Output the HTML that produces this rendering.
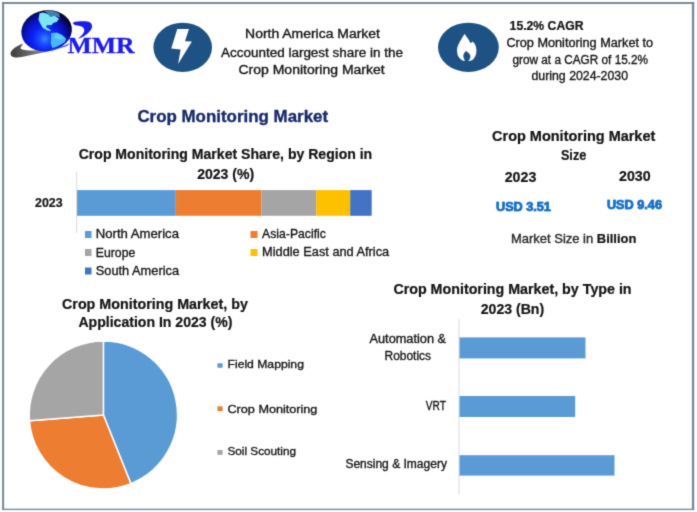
<!DOCTYPE html>
<html><head><meta charset="utf-8">
<style>
html,body{margin:0;padding:0;background:#fff;}
body{width:697px;height:512px;overflow:hidden;}
svg{display:block;will-change:transform;}
text{font-family:"Liberation Sans",sans-serif;fill:#161616;stroke:#161616;stroke-width:0.34px;}
.b{font-weight:bold;}
.b text,text.b{fill:#141414;stroke:#141414;stroke-width:0.22px;}
.ser{font-family:"Liberation Serif",serif;}
</style></head><body>
<svg width="697" height="512" viewBox="0 0 697 512">
<defs><filter id="soft" x="0" y="0" width="697" height="512" filterUnits="userSpaceOnUse" color-interpolation-filters="sRGB"><feConvolveMatrix order="3" kernelMatrix="0.0196 0.1008 0.0196 0.1008 0.5184 0.1008 0.0196 0.1008 0.0196" edgeMode="duplicate" preserveAlpha="true"/></filter>
<radialGradient id="gl" gradientUnits="userSpaceOnUse" cx="43.5" cy="38.5" r="31">
<stop offset="0" stop-color="#3a86ff"/><stop offset="0.18" stop-color="#1a4cfc"/><stop offset="0.4" stop-color="#0c22f0"/><stop offset="0.62" stop-color="#0914c8"/><stop offset="0.82" stop-color="#050a78"/><stop offset="0.94" stop-color="#020326"/><stop offset="1" stop-color="#010114"/>
</radialGradient>
<filter id="glow" x="-20%" y="-50%" width="140%" height="200%"><feGaussianBlur stdDeviation="0.7"/></filter>
<filter id="sf" x="-10%" y="-10%" width="120%" height="120%"><feGaussianBlur stdDeviation="0.35"/></filter>
<filter id="bl" x="-50%" y="-50%" width="200%" height="200%"><feGaussianBlur stdDeviation="2.2"/></filter>
<linearGradient id="sw" x1="0" y1="0" x2="1" y2="0">
<stop offset="0" stop-color="#3c3c3c"/><stop offset="0.45" stop-color="#7a7a7a"/><stop offset="0.75" stop-color="#6a70a8"/><stop offset="1" stop-color="#1a2ad8"/>
</linearGradient>
</defs>
<g filter="url(#soft)"><rect x="-5" y="-5" width="707" height="522" fill="#fff"/>
<!-- border -->
<g fill="#74879f"><rect x="2.1" y="2" width="2" height="508"/><rect x="2.1" y="2" width="692.1" height="1.95"/><rect x="691.9" y="2" width="2.3" height="508"/><rect x="2.1" y="508.7" width="692.1" height="1.35"/></g>

<!-- LOGO -->
<g id="logo">
<path d="M22.2,43.7 C15,46.5 9.5,51.5 10.7,54.5 C11.5,57.2 14,57.6 17,57.4 C20,57.2 23,56.6 26.5,55.9 C31,55 36,54 40.9,53 C46,52 51,50.8 55.2,49.5 C59,48.4 62.5,47.5 65.3,46.6 C67,46 68.5,45 69.6,43.7 C66,45.5 63,46.2 60,46.6 C56,47.6 52,48.5 48,49 C43,49.8 39,50.4 35,50.5 C31,50.6 28,50.5 25,50 C22.5,49.6 20.5,49 20.5,48 C20.8,46.5 22,45 22.9,44.5 Z" fill="url(#sw)"/>
<ellipse cx="46.6" cy="30.8" rx="25.4" ry="20.5" fill="url(#gl)" transform="rotate(-9 46.6 30.8)"/>
<g filter="url(#sf)">
<path d="M44.4,10.9 L52.2,10.4 L59.1,13.3 L60,17.7 L54.7,15.8 L50.3,16.8 L48.3,14.3 Z" fill="#3f80aa"/>
<path d="M39.5,13.3 L43.4,12.6 L48.3,14.3 L50.3,16.8 L54.7,15.8 L59.1,18.7 L56.6,22.1 L53.2,23.1 L51.7,25.1 L47.3,25.1 L45.9,27 L49.3,29 L51.2,30.9 L47.3,30.4 L42.9,28 L40.5,24.1 L38.5,19.7 Z" fill="#7de4f2"/>
<path d="M47.3,25.1 L51.7,25.1 L50.5,27.5 L47,27 Z" fill="#1d4fd0" opacity="0.8"/>
<path d="M51.2,32.9 L57.1,32.4 L62,34.8 L66.4,38.7 L64.9,42.2 L61,44.6 L56.1,47.1 L52.2,48 L50.7,43.1 L51.2,37.3 Z" fill="#49b6f6"/>
<path d="M55,33.5 L61,35 L64.5,38.5 L60,40 L55,38 Z" fill="#6fd6fa" opacity="0.7"/>
</g>
<path d="M50.3,50.6 C57,49 63.5,46.8 68.8,43.6" fill="none" stroke="#5a74f0" stroke-width="1.1" opacity="0.85"/>
<path d="M72.6,23 C73.4,22.4 74.3,22.1 75.3,21.8 C77.4,21.3 79.6,21.1 81.9,21.2 C84.2,21.2 86.6,21.3 88.6,21.8 C89.7,22.2 90.6,22.8 91.2,23.6 C91.8,24.3 92,25.1 92,26 C92,26.9 91.9,27.8 91.6,28.6 C91,30.1 89.9,31.4 88.6,32.6 C87.2,34 85.6,35.2 83.9,36.3 C82,37.4 80,38.2 77.9,38.9 L77,39.6 C78.1,38.8 79,37.9 79.9,36.9 C81.2,35.8 82.4,34.6 83.3,33.3 C84,32.2 84.4,31.1 84.3,29.9 C84.2,28.9 83.7,28 82.9,27.3 C82.1,26.6 81,26.2 79.9,26 C78.4,25.7 76.8,25.6 75.3,25.3 C74.2,24.7 73.3,23.9 72.6,23 Z" fill="#1a1ce8"/>
<text class="ser b" x="67.4" y="53.4" font-size="22.7" textLength="67.2" lengthAdjust="spacingAndGlyphs" style="fill:#1c1cec;stroke:#1c1cec;stroke-width:0.3">MMR</text>
</g>

<!-- bolt icon -->
<ellipse cx="182.7" cy="47.3" rx="29.3" ry="24.6" fill="#1e5284"/>
<polygon points="177.25,29 189,29 185,41.25 191.9,41.5 178.1,64 180.6,49.4 171.25,48.5" fill="#fff"/>

<!-- flame icon -->
<ellipse cx="468.4" cy="47.3" rx="30.4" ry="24.6" fill="#1e5284"/>
<path d="M464.5,33.8 C463.9,35 463.3,35.9 462.6,36.9 C461.7,38.6 460.6,40.3 459.7,42.1 C458.8,43.8 457.9,45.5 457.4,47.3 C457,48.8 456.9,50.3 457.1,51.8 C457.2,53.3 457.5,54.8 458.2,56.2 C458.9,57.5 459.9,58.7 461.1,59.6 C462,60.3 463,60.8 464.1,61 L464.8,60.9 C464.5,60.4 464.5,59.8 464.3,59.2 C463.8,58.2 463.3,57.3 463.3,56.2 C463.3,55.1 463.6,54.1 464.1,53.2 C464.6,52.3 465.3,51.5 466,50.9 C467,51.4 467.9,52.1 468.6,52.9 C469.5,53.8 470.2,54.9 470.4,56.2 C470.5,57.3 470.1,58.3 469.6,59.2 C469.3,59.9 468.8,60.5 468.1,61 C469.6,61 471.1,60.7 472.3,59.9 C473.6,59 474.6,57.7 475.2,56.2 C475.9,54.8 476.4,53.3 476.4,51.8 C476.5,50.3 476.4,48.8 476,47.3 C475.7,46 475.2,44.8 474.5,43.6 C473.9,42.7 473.2,42 472.3,41.4 C471.9,42.2 471.3,42.8 470.4,43.2 C469.9,41.7 469.1,40.4 468.2,39.1 C467.1,37.3 465.7,35.6 464.5,33.8 Z" fill="#fff"/>

<!-- top texts -->
<g font-size="12">
<text x="245.1" y="38" textLength="134.8" lengthAdjust="spacingAndGlyphs">North America Market</text>
<text x="221" y="56.6" textLength="182" lengthAdjust="spacingAndGlyphs">Accounted largest share in the</text>
<text x="238.5" y="74" textLength="146.2" lengthAdjust="spacingAndGlyphs">Crop Monitoring Market</text>
<text class="b" x="509.6" y="30.1" textLength="73.9" lengthAdjust="spacingAndGlyphs">15.2% CAGR</text>
<text x="506.4" y="46.9" textLength="146.7" lengthAdjust="spacingAndGlyphs">Crop Monitoring Market to</text>
<text x="512.5" y="64" textLength="135.6" lengthAdjust="spacingAndGlyphs">grow at a CAGR of 15.2%</text>
<text x="531.5" y="80.1" textLength="96.5" lengthAdjust="spacingAndGlyphs">during 2024-2030</text>
</g>

<!-- main title -->
<text class="b" x="137.4" y="121.6" font-size="16.2" textLength="190.7" lengthAdjust="spacingAndGlyphs" style="fill:#182b68;stroke:#182b68;stroke-width:0.35px">Crop Monitoring Market</text>

<!-- region chart -->
<g class="b" font-size="14.4">
<text x="78.7" y="159.1" textLength="293.5" lengthAdjust="spacingAndGlyphs">Crop Monitoring Market Share, by Region in</text>
<text x="197.2" y="178.6" textLength="57" lengthAdjust="spacingAndGlyphs">2023 (%)</text>
<text x="35" y="207.1" font-size="13" textLength="27.6" lengthAdjust="spacingAndGlyphs">2023</text>
</g>
<rect x="76.2" y="172" width="1" height="61" fill="#d9d9d9"/>
<rect x="77.1" y="190.1" width="98.7" height="25.7" fill="#5b9bd5"/>
<rect x="175.8" y="190.1" width="85.7" height="25.7" fill="#ed7d31"/>
<rect x="261.5" y="190.1" width="54.7" height="25.7" fill="#a5a5a5"/>
<rect x="316.2" y="190.1" width="34" height="25.7" fill="#ffc000"/>
<rect x="350.2" y="190.1" width="21.5" height="25.7" fill="#4472c4"/>
<g font-size="12.6" style="fill:#333">
<rect x="85" y="231" width="6.5" height="7" fill="#5b9bd5"/>
<text x="95.8" y="238.1" textLength="83.2" lengthAdjust="spacingAndGlyphs">North America</text>
<rect x="85" y="249" width="6.5" height="7" fill="#a5a5a5"/>
<text x="95.8" y="256.5" textLength="39.5" lengthAdjust="spacingAndGlyphs">Europe</text>
<rect x="85" y="267.5" width="6.5" height="7" fill="#4472c4"/>
<text x="95.8" y="275.3" textLength="83.2" lengthAdjust="spacingAndGlyphs">South America</text>
<rect x="250.5" y="231" width="7" height="7" fill="#ed7d31"/>
<text x="262.1" y="238.1" textLength="63.8" lengthAdjust="spacingAndGlyphs">Asia-Pacific</text>
<rect x="250.5" y="249" width="7" height="7" fill="#ffc000"/>
<text x="262.1" y="256.3" textLength="127.1" lengthAdjust="spacingAndGlyphs">Middle East and Africa</text>
</g>

<!-- market size -->
<g class="b" font-size="14.4">
<text x="492.1" y="140.8" textLength="163.2" lengthAdjust="spacingAndGlyphs">Crop Monitoring Market</text>
<text x="560.9" y="159.6" textLength="25.4" lengthAdjust="spacingAndGlyphs">Size</text>
<text x="504.7" y="182.2" textLength="31.6" lengthAdjust="spacingAndGlyphs">2023</text>
<text x="619" y="180.9" textLength="31.6" lengthAdjust="spacingAndGlyphs">2030</text>
</g>
<g class="b" font-size="12.4">
<g filter="url(#glow)" opacity="0.5">
<text x="496" y="211.2" textLength="54.9" lengthAdjust="spacingAndGlyphs" style="fill:#4aa6f0;stroke:#4aa6f0;stroke-width:1.2">USD 3.51</text>
<text x="606.9" y="209.0" textLength="55.1" lengthAdjust="spacingAndGlyphs" style="fill:#4aa6f0;stroke:#4aa6f0;stroke-width:1.2">USD 9.46</text>
</g>
<text x="496" y="211.2" textLength="54.9" lengthAdjust="spacingAndGlyphs" style="fill:#176cc0;stroke:#176cc0;stroke-width:0.55">USD 3.51</text>
<text x="606.9" y="209.0" textLength="55.1" lengthAdjust="spacingAndGlyphs" style="fill:#176cc0;stroke:#176cc0;stroke-width:0.55">USD 9.46</text>
</g>
<text x="511" y="243.4" font-size="12.6" textLength="125.4" lengthAdjust="spacingAndGlyphs" style="fill:#333">Market Size in <tspan class="b" style="fill:#141414;stroke:#141414;stroke-width:0.22px">Billion</tspan></text>

<!-- pie -->
<g class="b" font-size="14.4">
<text x="62" y="308.8" textLength="185.9" lengthAdjust="spacingAndGlyphs">Crop Monitoring Market, by</text>
<text x="78.4" y="327.1" textLength="154.1" lengthAdjust="spacingAndGlyphs">Application In 2023 (%)</text>
</g>
<g id="pie" stroke="#fff" stroke-width="1.5" stroke-linejoin="round">
<path d="M103.4,415 L103.4,341 A74.2,74 0 0 1 130.9,483.7 Z" fill="#5b9bd5"/>
<path d="M103.4,415 L130.9,483.7 A74.2,74 0 0 1 29.4,420.7 Z" fill="#ed7d31"/>
<path d="M103.4,415 L29.4,420.7 A74.2,74 0 0 1 103.4,341 Z" fill="#a5a5a5"/>
</g>
<g font-size="11.8" style="fill:#333">
<rect x="217.4" y="363.3" width="5.2" height="4.4" fill="#5b9bd5"/>
<text x="227.5" y="368.4" textLength="76.4" lengthAdjust="spacingAndGlyphs">Field Mapping</text>
<rect x="217.4" y="406.3" width="5.2" height="4.8" fill="#ed7d31"/>
<text x="227.5" y="412.5" textLength="89.9" lengthAdjust="spacingAndGlyphs">Crop Monitoring</text>
<rect x="217.4" y="450" width="5.2" height="4.8" fill="#a5a5a5"/>
<text x="227.5" y="455.2" textLength="68.5" lengthAdjust="spacingAndGlyphs">Soil Scouting</text>
</g>

<!-- type bar chart -->
<g class="b" font-size="14.4">
<text x="393.4" y="294.3" textLength="238.2" lengthAdjust="spacingAndGlyphs">Crop Monitoring Market, by Type in</text>
<text x="480.7" y="313.7" textLength="63.5" lengthAdjust="spacingAndGlyphs">2023 (Bn)</text>
</g>
<rect x="458.5" y="319" width="1" height="175.5" fill="#d9d9d9"/>
<rect x="459.5" y="337.4" width="126" height="21" fill="#5b9bd5"/>
<rect x="459.5" y="396" width="115.7" height="21" fill="#5b9bd5"/>
<rect x="459.5" y="455.2" width="155" height="20.4" fill="#5b9bd5"/>
<g font-size="12" style="fill:#333">
<text x="369.5" y="343.1" textLength="76.6" lengthAdjust="spacingAndGlyphs">Automation &amp;</text>
<text x="384.6" y="359.5" textLength="46.4" lengthAdjust="spacingAndGlyphs">Robotics</text>
<text x="425.8" y="410.4" textLength="20.1" lengthAdjust="spacingAndGlyphs">VRT</text>
<text x="345.4" y="468.2" textLength="101.5" lengthAdjust="spacingAndGlyphs">Sensing &amp; Imagery</text>
</g>
</g></svg>
</body></html>
